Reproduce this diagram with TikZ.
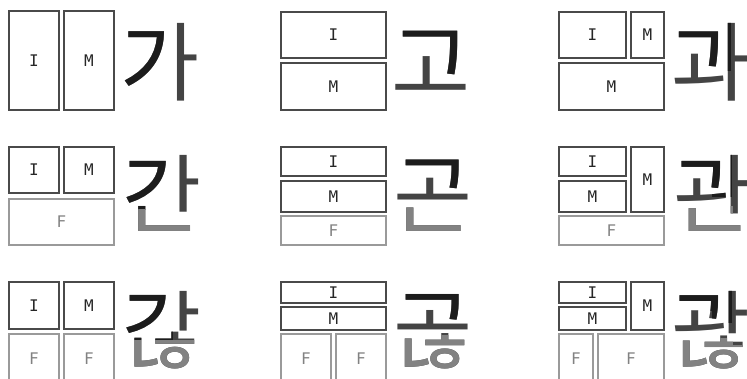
\documentclass[tikz,border=0pt]{standalone}
\usepackage{fontspec}
\setmonofont{DejaVu Sans Mono}
\newfontfamily\kr{Noto Sans CJK KR}
\definecolor{initc}{HTML}{1C1C1C}
\definecolor{medc}{HTML}{444444}
\definecolor{finc}{HTML}{828282}
\definecolor{boxc}{HTML}{4A4A4A}
\definecolor{fboxc}{HTML}{9A9A9A}

\begin{document}
\begin{tikzpicture}[x=1pt, y=-1pt,
  jbox/.style={draw=boxc, line width=1.3pt, inner sep=0pt, outer sep=0pt,
    font=\ttfamily\fontsize{16}{16}\selectfont, text=black!85},
  fbox/.style={jbox, draw=fboxc, text=finc},
  syl/.style={font=\kr\fontsize{86}{86}\selectfont, inner sep=0pt, anchor=base west}]
\path[use as bounding box] (0,0) rectangle (747,378);
\clip (0,0) rectangle (747,378);

% column 1: ga, gan, ganh
\node[jbox, minimum width=50, minimum height=99] (ga-i) at (34,60.5) {I};
\node[jbox, minimum width=50, minimum height=99] (ga-m) at (89,60.5) {M};
\node[jbox, minimum width=50, minimum height=46] (gan-i) at (34,170) {I};
\node[jbox, minimum width=50, minimum height=46] (gan-m) at (89,170) {M};
\node[fbox, minimum width=105, minimum height=46] (gan-f) at (61.5,222) {F};
\node[jbox, minimum width=50, minimum height=47] (ganh-i) at (34,305.5) {I};
\node[jbox, minimum width=50, minimum height=47] (ganh-m) at (89,305.5) {M};
\node[fbox, minimum width=50, minimum height=49] (ganh-f1) at (34,358.5) {F};
\node[fbox, minimum width=50, minimum height=49] (ganh-f2) at (89,358.5) {F};

% column 2: go, gon, gonh
\node[jbox, minimum width=105, minimum height=46] (go-i) at (333.5,35) {I};
\node[jbox, minimum width=105, minimum height=47] (go-m) at (333.5,86.5) {M};
\node[jbox, minimum width=105, minimum height=29] (gon-i) at (333.5,161.5) {I};
\node[jbox, minimum width=105, minimum height=31] (gon-m) at (333.5,196.5) {M};
\node[fbox, minimum width=105, minimum height=29] (gon-f) at (333.5,230.5) {F};
\node[jbox, minimum width=105, minimum height=21] (gonh-i) at (333.5,292.5) {I};
\node[jbox, minimum width=105, minimum height=23] (gonh-m) at (333.5,318.5) {M};
\node[fbox, minimum width=50, minimum height=49] (gonh-f1) at (306,358.5) {F};
\node[fbox, minimum width=50, minimum height=49] (gonh-f2) at (361,358.5) {F};

% column 3: gwa, gwan, gwanh
\node[jbox, minimum width=67, minimum height=46] (gwa-i) at (592.5,35) {I};
\node[jbox, minimum width=33, minimum height=46] (gwa-m1) at (647.5,35) {M};
\node[jbox, minimum width=105, minimum height=47] (gwa-m2) at (611.5,86.5) {M};
\node[jbox, minimum width=67, minimum height=29] (gwan-i) at (592.5,161.5) {I};
\node[jbox, minimum width=67, minimum height=31] (gwan-m1) at (592.5,196.5) {M};
\node[jbox, minimum width=33, minimum height=65] (gwan-m2) at (647.5,179.5) {M};
\node[fbox, minimum width=105, minimum height=29] (gwan-f) at (611.5,230.5) {F};
\node[jbox, minimum width=67, minimum height=21] (gwanh-i) at (592.5,292.5) {I};
\node[jbox, minimum width=67, minimum height=23] (gwanh-m1) at (592.5,318.5) {M};
\node[jbox, minimum width=33, minimum height=48] (gwanh-m2) at (647.5,306) {M};
\node[fbox, minimum width=34, minimum height=49] (gwanh-f1) at (576,358.5) {F};
\node[fbox, minimum width=66, minimum height=49] (gwanh-f2) at (631,358.5) {F};

% syllables, medial colour first, then initial and final clipped over it
\node[syl, text=medc] (ga) at (120,94) {가};
\begin{scope}\clip (110,10) rectangle (172,110);
\node[syl, text=initc] (ga-ini) at (120,94) {가};\end{scope}

\node[syl, text=medc] (go) at (391,94) {고};
\begin{scope}\clip (390,15) -- (480,15) -- (480,78) -- (440,78) -- (440,50) -- (390,50) -- cycle;
\node[syl, text=initc] (go-ini) at (391,94) {고};\end{scope}

\node[syl, text=medc] (gwa) at (671,94) {과};
\begin{scope}\clip (665,15) -- (730,15) -- (730,70) -- (708,70) -- (708,45) -- (665,45) -- cycle;
\node[syl, text=initc] (gwa-ini) at (671,94) {과};\end{scope}

\node[syl, text=medc] (gan) at (122,226) {간};
\begin{scope}\clip (110,145) rectangle (172,209);
\node[syl, text=initc] (gan-ini) at (122,226) {간};\end{scope}
\begin{scope}\clip (110,209) -- (176,209) -- (176,222) -- (210,222) -- (210,250) -- (110,250) -- cycle;
\node[syl, text=finc] (gan-fin) at (122,226) {간};\end{scope}

\node[syl, text=medc] (gon) at (393,226) {곤};
\begin{scope}\clip (390,145) -- (480,145) -- (480,192) -- (445,192) -- (445,172) -- (390,172) -- cycle;
\node[syl, text=initc] (gon-ini) at (393,226) {곤};\end{scope}
\begin{scope}\clip (390,202) rectangle (480,250);
\node[syl, text=finc] (gon-fin) at (393,226) {곤};\end{scope}

\node[syl, text=medc] (gwan) at (673,226) {관};
\begin{scope}\clip (665,145) -- (731,145) -- (731,196) -- (712,196) -- (712,176) -- (665,176) -- cycle;
\node[syl, text=initc] (gwan-ini) at (673,226) {관};\end{scope}
\begin{scope}\clip (665,206) -- (732,206) -- (732,218) -- (747,218) -- (747,250) -- (665,250) -- cycle;
\node[syl, text=finc] (gwan-fin) at (673,226) {관};\end{scope}

\node[syl, text=medc] (ganh) at (122,362) {갆};
\begin{scope}\clip (110,280) rectangle (172,339);
\node[syl, text=initc] (ganh-ini) at (122,362) {갆};\end{scope}
\begin{scope}\clip (110,340) rectangle (210,378);
\node[syl, text=finc] (ganh-fin) at (122,362) {갆};\end{scope}

\node[syl, text=medc] (gonh) at (393,362) {곦};
\begin{scope}\clip (390,280) -- (480,280) -- (480,322) -- (445,322) -- (445,307) -- (390,307) -- cycle;
\node[syl, text=initc] (gonh-ini) at (393,362) {곦};\end{scope}
\begin{scope}\clip (390,335) rectangle (480,378);
\node[syl, text=finc] (gonh-fin) at (393,362) {곦};\end{scope}

\node[syl, text=medc] (gwanh) at (671,362) {괂};
\begin{scope}\clip (665,280) -- (731,280) -- (731,322) -- (712,322) -- (712,310) -- (665,310) -- cycle;
\node[syl, text=initc] (gwanh-ini) at (671,362) {괂};\end{scope}
\begin{scope}\clip (665,338) -- (732,338) -- (732,345) -- (747,345) -- (747,378) -- (665,378) -- cycle;
\node[syl, text=finc] (gwanh-fin) at (671,362) {괂};\end{scope}
\end{tikzpicture}
\end{document}
